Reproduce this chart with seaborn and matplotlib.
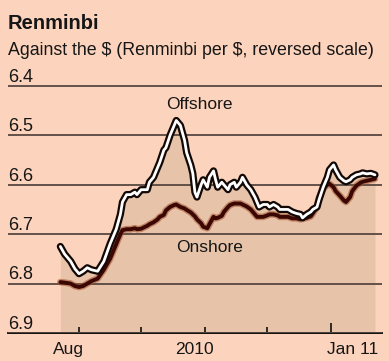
import pandas as pd
import numpy as np
import seaborn as sns
import matplotlib
matplotlib.use("Agg")
import matplotlib.pyplot as plt
import matplotlib.dates as mdates

# data (renminbi per dollar)
dates = ["2010-08-23", "2010-08-25", "2010-08-28", "2010-08-30",
         "2010-09-01", "2010-09-03", "2010-09-05", "2010-09-07", "2010-09-10", "2010-09-13",
         "2010-09-16", "2010-09-19", "2010-09-21", "2010-09-22", "2010-09-24", "2010-09-26",
         "2010-09-28", "2010-09-29",
         "2010-10-01", "2010-10-04", "2010-10-05", "2010-10-07", "2010-10-09", "2010-10-10",
         "2010-10-12", "2010-10-13", "2010-10-15", "2010-10-17", "2010-10-18", "2010-10-20",
         "2010-10-22", "2010-10-23", "2010-10-25", "2010-10-26", "2010-10-27", "2010-10-28",
         "2010-10-30", "2010-10-31",
         "2010-11-02", "2010-11-03", "2010-11-05", "2010-11-06", "2010-11-07", "2010-11-09",
         "2010-11-10", "2010-11-12", "2010-11-13", "2010-11-15", "2010-11-16", "2010-11-18",
         "2010-11-19", "2010-11-21", "2010-11-23", "2010-11-25", "2010-11-26", "2010-11-27",
         "2010-11-29",
         "2010-12-01", "2010-12-02", "2010-12-04", "2010-12-06", "2010-12-07", "2010-12-09",
         "2010-12-11", "2010-12-13", "2010-12-15", "2010-12-17", "2010-12-18", "2010-12-20",
         "2010-12-22", "2010-12-23", "2010-12-25", "2010-12-26", "2010-12-28", "2010-12-30",
         "2010-12-31",
         "2011-01-02", "2011-01-03", "2011-01-05", "2011-01-07", "2011-01-08", "2011-01-10",
         "2011-01-11", "2011-01-13", "2011-01-15", "2011-01-16", "2011-01-18", "2011-01-20",
         "2011-01-22"]

offshore = [6.725, 6.74, 6.755, 6.77, 6.78, 6.775, 6.768, 6.772, 6.775, 6.755,
            6.72, 6.69, 6.66, 6.635, 6.62, 6.62, 6.615, 6.62, 6.61, 6.61,
            6.595, 6.585, 6.565, 6.555, 6.53, 6.525, 6.50, 6.48, 6.47, 6.48,
            6.51, 6.535, 6.56, 6.577, 6.615, 6.625, 6.60, 6.59, 6.605, 6.585,
            6.572, 6.59, 6.605, 6.595, 6.60, 6.61, 6.60, 6.595, 6.605, 6.595,
            6.585, 6.60, 6.61, 6.625, 6.635, 6.645, 6.64, 6.64, 6.645, 6.64,
            6.645, 6.65, 6.65, 6.65, 6.655, 6.658, 6.66, 6.667, 6.66, 6.655,
            6.65, 6.645, 6.63, 6.605, 6.585, 6.57, 6.56, 6.57, 6.585, 6.592,
            6.594, 6.59, 6.585, 6.58, 6.578, 6.576, 6.578, 6.577, 6.58]

onshore = [6.797, 6.798, 6.800, 6.805, 6.807, 6.805, 6.800, 6.795, 6.790, 6.772,
           6.750, 6.720, 6.700, 6.692, 6.690, 6.690, 6.688, 6.690, 6.689, 6.683,
           6.680, 6.676, 6.670, 6.665, 6.661, 6.652, 6.645, 6.641, 6.640, 6.645,
           6.648, 6.651, 6.656, 6.660, 6.664, 6.670, 6.678, 6.685, 6.688, 6.680,
           6.665, 6.668, 6.667, 6.663, 6.655, 6.645, 6.641, 6.638, 6.638, 6.638,
           6.640, 6.644, 6.650, 6.660, 6.665, 6.665, 6.665, 6.662, 6.660, 6.660,
           6.662, 6.665, 6.665, 6.665, 6.668, 6.668, 6.670, 6.669, 6.667, 6.664,
           6.658, 6.645, 6.625, 6.608, 6.600, 6.598, 6.605, 6.613, 6.622, 6.632,
           6.635, 6.625, 6.613, 6.602, 6.596, 6.594, 6.592, 6.590, 6.588]

y_ticks = [6.4, 6.5, 6.6, 6.7, 6.8, 6.9]
x_labels = ["Aug", "2010", "Jan 11"]
x_label_dates = ["2010-08-27", "2010-10-27", "2011-01-11"]
month_ticks = ["2010-09-01", "2010-10-01", "2010-11-01", "2010-12-01"]
year_tick = ["2011-01-01"]

bg = "#fcd3bc"
fill_col = "#e7c3a9"
grid_col = "#574740"
text_col = "#161616"

df = pd.DataFrame({"date": pd.to_datetime(dates), "Offshore": offshore, "Onshore": onshore})

sns.set_style("white", {"axes.facecolor": bg, "figure.facecolor": bg})
plt.rcParams["font.family"] = ["Liberation Sans", "DejaVu Sans"]

fig = plt.figure(figsize=(3.89, 3.61), dpi=100)
ax = fig.add_axes([8 / 389, 28 / 361, 374 / 389, 257 / 361])
ax.set_facecolor(bg)

# shaded area under the upper of the two lines
top = df[["Offshore", "Onshore"]].min(axis=1)
ax.fill_between(df["date"], top, 6.9, color=fill_col, lw=0, zorder=1)

# onshore: dark brown with a soft reddish halo
sns.lineplot(data=df, x="date", y="Onshore", ax=ax, color="#a3502c", lw=4.8, alpha=0.55, zorder=3)
sns.lineplot(data=df, x="date", y="Onshore", ax=ax, color="#3a0703", lw=2.8, zorder=4)
# offshore: white line with black outline
sns.lineplot(data=df, x="date", y="Offshore", ax=ax, color="#120806", lw=5.2, zorder=5,
             solid_joinstyle="round")
sns.lineplot(data=df, x="date", y="Offshore", ax=ax, color="white", lw=2.0, zorder=6,
             solid_joinstyle="round")

sep1 = mdates.date2num(pd.Timestamp("2010-09-01"))
ax.set_xlim(sep1 - 34.3, sep1 + 146.4)
ax.set_ylim(6.9, 6.38)

ax.set_yticks(y_ticks)
ax.set_yticklabels([])
ax.tick_params(axis="y", length=0)
ax.yaxis.grid(True, color=grid_col, lw=1.3, zorder=2)
ax.xaxis.grid(False)
ax.set_axisbelow(False)
for line in ax.get_ygridlines():
    line.set_zorder(2)

for v in y_ticks:
    ax.annotate(f"{v:.1f}", xy=(0, v), xycoords=("axes fraction", "data"),
                xytext=(0, 3), textcoords="offset points", ha="left", va="baseline",
                fontsize=13, color=text_col, zorder=10)

ax.set_xticks(mdates.date2num(pd.to_datetime(year_tick)))
ax.set_xticklabels([])
ax.set_xticks(mdates.date2num(pd.to_datetime(month_ticks)), minor=True)
ax.tick_params(axis="x", which="major", direction="in", length=7.5, width=1.1, color="black")
ax.tick_params(axis="x", which="minor", direction="in", length=4.5, width=1.1, color="black")
ax.xaxis.set_ticks_position("bottom")

for lab, d in zip(x_labels, x_label_dates):
    ax.annotate(lab, xy=(mdates.date2num(pd.Timestamp(d)), 6.9), xycoords="data",
                xytext=(0, -15), textcoords="offset points", ha="center", va="baseline",
                fontsize=12.5, color=text_col, annotation_clip=False)

for s in ["top", "left", "right"]:
    ax.spines[s].set_visible(False)
ax.spines["bottom"].set_color("black")
ax.spines["bottom"].set_linewidth(1.3)
ax.set_xlabel("")
ax.set_ylabel("")

ax.text(mdates.date2num(pd.Timestamp("2010-10-29")), 6.438, "Offshore", ha="center", va="center",
        fontsize=12.5, color=text_col)
ax.text(mdates.date2num(pd.Timestamp("2010-11-03")), 6.726, "Onshore", ha="center", va="center",
        fontsize=12.5, color=text_col)

fig.text(8 / 389, 1 - 29 / 361, "Renminbi", fontsize=14.5, fontweight="bold", color=text_col,
         ha="left", va="baseline")
fig.text(8 / 389, 1 - 55 / 361, "Against the \\$ (Renminbi per \\$, reversed scale)", fontsize=12.8,
         color=text_col, ha="left", va="baseline")

fig.savefig("out.png", dpi=100, facecolor=bg)
